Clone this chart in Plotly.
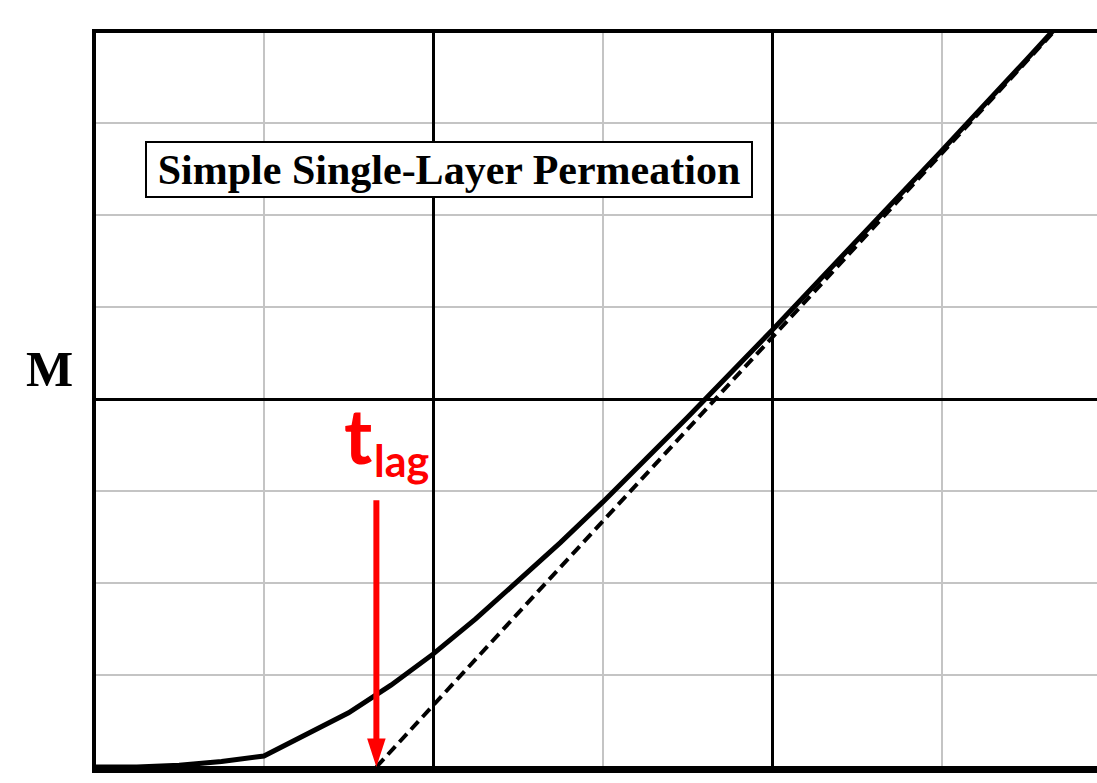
import plotly.graph_objects as go

# ---- data ----
t_curve = [0.0, 0.25, 0.5, 0.75, 1.0, 1.25, 1.5, 1.75, 2.0, 2.25, 2.5, 2.75,
           3.0, 3.5, 4.0, 4.5, 5.0, 5.5, 5.75]
M_curve = [0.0, 0.0, 0.02, 0.06, 0.12, 0.35, 0.59, 0.89, 1.23, 1.61, 2.02, 2.44,
           2.88, 3.80, 4.75, 5.72, 6.70, 7.69, 8.19]

t_asym = [1.664, 5.75]
M_asym = [0.0, 8.17]

t_lag = 1.664
arrow_top = 2.90
arrow_shaft_end = 0.30

title_text = "Simple Single-Layer Permeation"
y_label = "M"

# ---- layout geometry (pixels) ----
W, H = 1097, 783
L, T, B = 96, 33, 14            # plot area: x 96..1097, y 33..769
PW, PH = W - L, H - T - B
x0_px, x_unit = 94.5, 169.4     # pixel of t=0 and pixels per unit
y0_px, y_unit = 771.0, 92.46    # pixel of M=0 and pixels per unit

x_range = [(L - x0_px) / x_unit, (W - x0_px) / x_unit]
y_range = [(y0_px - (H - B)) / y_unit * -1, (y0_px - T) / y_unit]

def px(x):
    return (x - L) / PW
def py(y):
    return (H - B - y) / PH

fig = go.Figure()

fig.add_trace(go.Scatter(x=t_asym, y=M_asym, mode="lines",
                         line=dict(color="black", width=4, dash="11px,6px"),
                         hoverinfo="skip", showlegend=False))
fig.add_trace(go.Scatter(x=t_curve, y=M_curve, mode="lines",
                         line=dict(color="black", width=5),
                         hoverinfo="skip", showlegend=False))
# red arrow
fig.add_trace(go.Scatter(x=[t_lag, t_lag], y=[arrow_top, arrow_shaft_end], mode="lines",
                         line=dict(color="#ff0000", width=6),
                         hoverinfo="skip", showlegend=False))
fig.add_trace(go.Scatter(x=[t_lag], y=[0.0], mode="markers",
                         marker=dict(symbol="arrow", angle=180, size=30, color="#ff0000",
                                     line=dict(width=0)),
                         hoverinfo="skip", showlegend=False))

fig.update_xaxes(range=x_range, tick0=0, dtick=2, showticklabels=False, ticks="",
                 showgrid=True, gridcolor="black", gridwidth=2.5,
                 minor=dict(dtick=1, showgrid=True, gridcolor="#c4c4c4", gridwidth=2),
                 showline=True, linecolor="black", linewidth=4, mirror=True,
                 zeroline=False, fixedrange=True)
fig.update_yaxes(range=y_range, tick0=0, dtick=4, showticklabels=False, ticks="",
                 showgrid=True, gridcolor="black", gridwidth=2.5,
                 minor=dict(dtick=1, showgrid=True, gridcolor="#c4c4c4", gridwidth=2),
                 showline=True, linecolor="black", linewidth=4, mirror=False,
                 zeroline=False, fixedrange=True)

annotations = [
    dict(text="<b>" + title_text + "</b>", xref="paper", yref="paper",
         x=px(449), y=py(169.5), xanchor="center", yanchor="middle", showarrow=False,
         font=dict(family="Liberation Serif", size=42, color="black"),
         bgcolor="white", bordercolor="black", borderwidth=2, borderpad=2,
         width=600, height=49),
    dict(text="<b>" + y_label + "</b>", xref="paper", yref="paper",
         x=px(49), y=py(369), xanchor="center", yanchor="middle", showarrow=False,
         font=dict(family="Liberation Serif", size=50, color="black")),
    dict(text="<b>t</b>", xref="paper", yref="paper",
         x=px(358), y=py(434), xanchor="center", yanchor="middle", showarrow=False,
         font=dict(family="Lato", size=76, color="#ff0000")),
    dict(text="<b>lag</b>", xref="paper", yref="paper",
         x=px(372), y=py(460), xanchor="left", yanchor="middle", showarrow=False,
         font=dict(family="Lato", size=43, color="#ff0000")),
]

fig.update_layout(width=W, height=H, margin=dict(l=L, r=0, t=T, b=B, pad=0),
                  paper_bgcolor="white", plot_bgcolor="white",
                  annotations=annotations, showlegend=False)

fig.write_html("out.html", config={"displayModeBar": False},
               post_script="document.body.style.margin='0';document.body.style.overflow='hidden';")
